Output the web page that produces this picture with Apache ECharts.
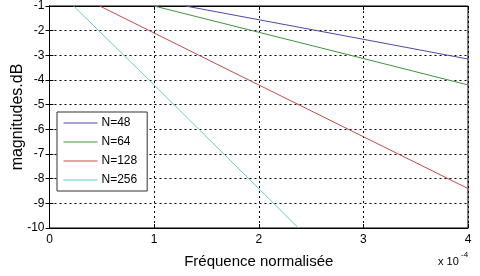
<!DOCTYPE html>
<html><head><meta charset="utf-8">
<script src="https://cdn.jsdelivr.net/npm/echarts@6/dist/echarts.min.js"></script>
<style>html,body{margin:0;padding:0;background:#fff}#c{width:480px;height:276px}</style>
</head><body><div id="c"></div>
<script>
const seriesNames = ['N=48', 'N=64', 'N=128', 'N=256'];
const colors = ['#4a4aa8', '#3f943f', '#c84848', '#66cccc'];
// [frequence (x1e-4), magnitude dB]
const n48 = [[1.30, -1], [3.0, -2.35], [4.0, -3.15]];
const n64 = [[1.00, -1], [3.0, -3.13], [4.0, -4.2]];
const n128 = [[0.48, -1], [2.0, -4.2], [4.0, -8.4]];
const n256 = [[0.23, -1], [1.0, -4.2], [2.38, -10]];
const xTicks = [0, 1, 2, 3, 4];
const yTicks = [-10, -9, -8, -7, -6, -5, -4, -3, -2, -1];
const allData = [n48, n64, n128, n256];

const font = 'Liberation Sans, Arial, sans-serif';
const chart = echarts.init(document.getElementById('c'));
const axisCommon = {
  axisLine: { show: true, lineStyle: { color: '#000', width: 1 } },
  axisTick: { show: true, inside: true, length: 4, lineStyle: { color: '#000' } },
  splitLine: { show: true, lineStyle: { color: '#000', type: [2, 3], width: 1 } }
};
chart.setOption({
  animation: false,
  grid: { left: 49.5, right: 12, top: 6, bottom: 48, show: true, borderColor: '#000', borderWidth: 1,
          outerBoundsMode: 'none', containLabel: false },
  xAxis: [{
    type: 'value', min: xTicks[0], max: xTicks[xTicks.length - 1], interval: 1,
    ...axisCommon,
    axisLabel: { color: '#000', fontFamily: font, fontSize: 12, margin: 6 },
    name: 'Fréquence normalisée', nameLocation: 'middle', nameGap: 26, nameMoveOverlap: false,
    nameTextStyle: { color: '#000', fontFamily: font, fontSize: 15 }
  }, {
    type: 'value', position: 'top', min: 0, max: 4, interval: 1,
    axisLine: { show: true, lineStyle: { color: '#000' } },
    axisTick: { show: true, inside: true, length: 4, lineStyle: { color: '#000' } },
    axisLabel: { show: false }, splitLine: { show: false }
  }],
  yAxis: [{
    type: 'value', min: yTicks[0], max: yTicks[yTicks.length - 1], interval: 1,
    ...axisCommon,
    axisLabel: { color: '#000', fontFamily: font, fontSize: 12, margin: 5 },
    name: 'magnitudes.dB', nameLocation: 'middle', nameGap: 24, nameRotate: 90, nameMoveOverlap: false,
    nameTextStyle: { color: '#000', fontFamily: font, fontSize: 16 }
  }, {
    type: 'value', position: 'right', min: -10, max: -1, interval: 1,
    axisLine: { show: true, lineStyle: { color: '#000' } },
    axisTick: { show: true, inside: true, length: 4, lineStyle: { color: '#000' } },
    axisLabel: { show: false }, splitLine: { show: false }
  }],
  legend: {
    orient: 'vertical', left: 57, top: 112, width: 82,
    backgroundColor: '#fff', borderColor: '#333', borderWidth: 1,
    padding: [5, 10, 5, 6], itemGap: 7, itemWidth: 34, itemHeight: 12,
    itemStyle: { opacity: 0 }, lineStyle: { width: 1 },
    textStyle: { color: '#000', fontFamily: font, fontSize: 12, padding: [0, 0, 0, -1] },
    data: seriesNames
  },
  graphic: [
    { type: 'text', left: 438, top: 256, style: { text: 'x 10', fill: '#000', font: '11px ' + font } },
    { type: 'text', left: 461, top: 251, style: { text: '-4', fill: '#000', font: '8px ' + font } }
  ],
  series: allData.map((d, i) => ({
    name: seriesNames[i], type: 'line', data: d, showSymbol: false, symbol: 'none',
    clip: true, lineStyle: { color: colors[i], width: 1 }, itemStyle: { color: colors[i] }
  }))
});
</script></body></html>
